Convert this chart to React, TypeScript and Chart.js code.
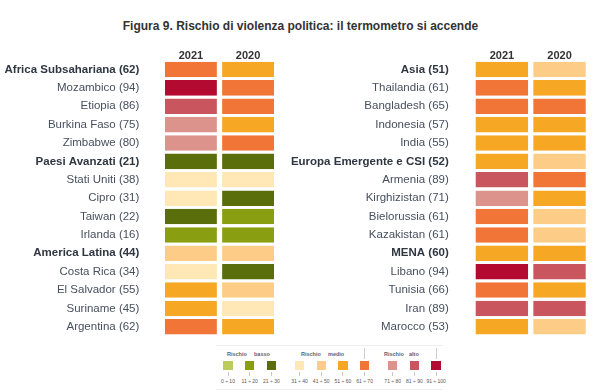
import React, { useEffect, useRef } from 'react';
import { Chart, registerables } from 'chart.js';

Chart.register(...registerables);

const FONT = "'Liberation Sans', Arial, sans-serif";

const years = ['2021', '2020'];

const leftNames = [
  'Africa Subsahariana', 'Mozambico', 'Etiopia', 'Burkina Faso', 'Zimbabwe',
  'Paesi Avanzati', 'Stati Uniti', 'Cipro', 'Taiwan', 'Irlanda',
  'America Latina', 'Costa Rica', 'El Salvador', 'Suriname', 'Argentina',
];
const leftScores = [62, 94, 86, 75, 80, 21, 38, 31, 22, 16, 44, 34, 55, 45, 62];
const leftIsRegion = [true, false, false, false, false, true, false, false, false, false, true, false, false, false, false];
// cell values estimated from the colour band shown in each cell
const leftCells2021 = [62, 94, 86, 75, 80, 21, 38, 31, 22, 16, 44, 34, 55, 55, 62];
const leftCells2020 = [55, 65, 65, 55, 65, 25, 35, 25, 15, 15, 45, 25, 45, 35, 55];

const rightNames = [
  'Asia', 'Thailandia', 'Bangladesh', 'Indonesia', 'India',
  'Europa Emergente e CSI', 'Armenia', 'Kirghizistan', 'Bielorussia', 'Kazakistan',
  'MENA', 'Libano', 'Tunisia', 'Iran', 'Marocco',
];
const rightScores = [51, 61, 65, 57, 55, 52, 89, 71, 61, 61, 60, 94, 66, 89, 53];
const rightIsRegion = [true, false, false, false, false, true, false, false, false, false, true, false, false, false, false];
const rightCells2021 = [51, 61, 65, 57, 55, 52, 89, 71, 61, 61, 60, 94, 66, 89, 53];
const rightCells2020 = [45, 55, 65, 55, 55, 45, 65, 55, 45, 45, 55, 85, 55, 85, 45];

const bandLabels = ['0 ÷ 10', '11 ÷ 20', '21 ÷ 30', '31 ÷ 40', '41 ÷ 50', '51 ÷ 60', '61 ÷ 70', '71 ÷ 80', '81 ÷ 90', '91 ÷ 100'];
const bandColors = ['#bccb5c', '#899e10', '#5a6e0b', '#ffe8b6', '#fdcd87', '#f6a724', '#f07537', '#dc938c', '#c9565f', '#b20a30'];
const bandGroup = [0, 0, 0, 1, 1, 1, 1, 2, 2, 2];
const groupNames = ['basso', 'medio', 'alto'];

function colorFor(v: number): string {
  const i = v <= 10 ? 0 : Math.min(9, Math.ceil(v / 10) - 1);
  return bandColors[i];
}

function makePanel(
  canvas: HTMLCanvasElement,
  names: string[],
  scores: number[],
  isRegion: boolean[],
  c2021: number[],
  c2020: number[],
  yWidth: number,
  yPad: number,
  padRight: number,
) {
  const barOpts = {
    barPercentage: 0.845,
    categoryPercentage: 1,
    borderWidth: { left: 2.65, right: 2.65, top: 0, bottom: 0 },
    borderColor: '#ffffff',
    borderSkipped: false,
    inflateAmount: 0,
  };
  return new Chart(canvas, {
    type: 'bar',
    data: {
      labels: names.map((n, i) => `${n} (${scores[i]})`),
      datasets: [
        { label: years[0], data: c2021.map(() => 1), backgroundColor: c2021.map(colorFor), ...barOpts } as any,
        { label: years[1], data: c2020.map(() => 1), backgroundColor: c2020.map(colorFor), ...barOpts } as any,
      ],
    },
    options: {
      indexAxis: 'y',
      responsive: false,
      animation: false,
      devicePixelRatio: 1,
      layout: { padding: { left: 0, right: padRight, top: 0, bottom: 0 } },
      plugins: {
        legend: { display: false },
        tooltip: { enabled: false },
        title: { display: false },
      },
      scales: {
        x: {
          type: 'linear',
          position: 'top',
          stacked: true,
          min: 0,
          max: 2,
          grid: { display: false },
          border: { display: false },
          afterBuildTicks: (s: any) => {
            s.ticks = years.map((_, i) => ({ value: i + 0.5 }));
          },
          afterFit: (s: any) => {
            s.height = 20.3;
            s.paddingLeft = 0;
            s.paddingRight = 0;
          },
          ticks: {
            callback: (_v: any, i: number) => years[i],
            font: { family: FONT, size: 11, weight: 'bold', lineHeight: 1 },
            color: '#333333',
            padding: -9,
            maxRotation: 0,
            autoSkip: false,
          },
        },
        y: {
          stacked: true,
          grid: { display: false },
          border: { display: false },
          afterFit: (s: any) => {
            s.width = yWidth;
            s.paddingTop = 0;
            s.paddingBottom = 0;
          },
          ticks: {
            font: (ctx: any) => ({ family: FONT, size: 11.5, weight: isRegion[ctx.index] ? 'bold' : 'normal' }),
            color: (ctx: any) => (isRegion[ctx.index] ? '#2f3742' : '#46505e'),
            padding: yPad,
            autoSkip: false,
          },
        },
      },
    } as any,
  });
}

export default function App() {
  const leftRef = useRef<HTMLCanvasElement>(null);
  const rightRef = useRef<HTMLCanvasElement>(null);

  useEffect(() => {
    const a = makePanel(leftRef.current!, leftNames, leftScores, leftIsRegion, leftCells2021, leftCells2020, 162.35, 15, 13.35);
    const b = makePanel(rightRef.current!, rightNames, rightScores, rightIsRegion, rightCells2021, rightCells2020, 183.05, 16.3, 11.65);
    return () => {
      a.destroy();
      b.destroy();
    };
  }, []);

  const groupRischioX = [227, 301, 384];
  const groupNameX = [254, 328, 409];

  return (
    <div style={{ position: 'absolute', left: 0, top: 0, width: 600, height: 392, background: '#fff', fontFamily: FONT, overflow: 'hidden' }}>
      <div style={{ position: 'absolute', left: 0, top: 19, width: 601, textAlign: 'center', fontSize: 12, lineHeight: '14px', fontWeight: 'bold', color: '#333' }}>
        Figura 9. Rischio di violenza politica: il termometro si accende
      </div>
      <canvas ref={leftRef} width={290} height={296} style={{ position: 'absolute', left: 0, top: 40 }} />
      <canvas ref={rightRef} width={310} height={296} style={{ position: 'absolute', left: 290, top: 40 }} />

      <div style={{ position: 'absolute', left: 216, top: 345, width: 227, height: 1, background: '#eeeeee' }} />
      <div style={{ position: 'absolute', left: 216, top: 389, width: 227, height: 1, background: '#eeeeee' }} />
      {groupNames.map((g, gi) => (
        <React.Fragment key={g}>
          <div style={{ position: 'absolute', left: groupRischioX[gi], top: 351, fontSize: 5.5, lineHeight: '6px', fontWeight: 'bold', color: '#5a6270' }}>Rischio</div>
          <div style={{ position: 'absolute', left: groupNameX[gi], top: 351, fontSize: 5.5, lineHeight: '6px', fontWeight: 'bold', color: '#5a6270' }}>{g}</div>
        </React.Fragment>
      ))}
      {[6, 9].map((i) => {
        const left = 223.3 + i * 21.7 + bandGroup[i] * 6.4;
        return <div key={'sep' + i} style={{ position: 'absolute', left: left + 4.2, top: 348, width: 1, height: 11, background: '#d0d0d0' }} />;
      })}
      {bandLabels.map((lab, i) => {
        const left = 223.3 + i * 21.7 + bandGroup[i] * 6.4;
        return (
          <React.Fragment key={lab}>
            <div style={{ position: 'absolute', left, top: 361, width: 9.4, height: 9.4, background: bandColors[i] }} />
            <div style={{ position: 'absolute', left: left + 4.2, top: 372, width: 1, height: 4, background: '#c8c8c8' }} />
            <div style={{ position: 'absolute', left: left + 4.7 - 20, width: 40, top: 377.5, textAlign: 'center', fontSize: 5, lineHeight: '6px', color: '#555' }}>{lab}</div>
          </React.Fragment>
        );
      })}
    </div>
  );
}
